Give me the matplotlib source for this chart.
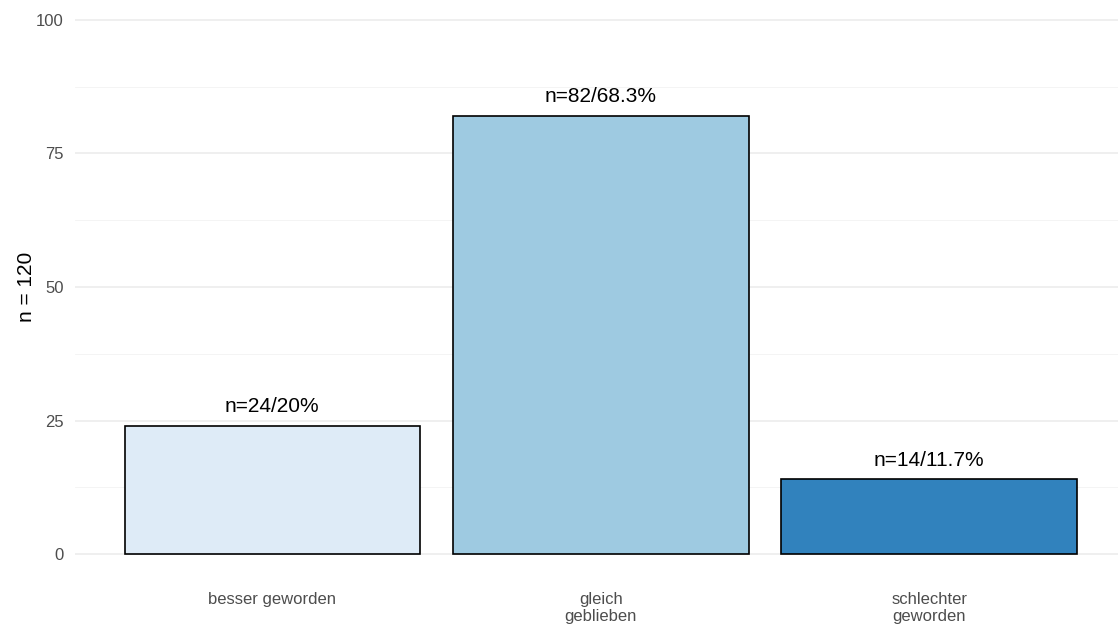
import matplotlib.pyplot as plt

plt.rcParams["font.family"] = ["Liberation Sans", "DejaVu Sans"]

categories = ["besser geworden", "gleich\ngeblieben", "schlechter\ngeworden"]
counts = [24, 82, 14]
labels = ["n=24/20%", "n=82/68.3%", "n=14/11.7%"]
colors = ["#DEEBF7", "#9ECAE1", "#3182BD"]

W, H = 1118, 626
fig = plt.figure(figsize=(W / 100, H / 100), dpi=100)
ax = fig.add_axes([75 / W, 1 - 560 / H, (W - 75) / W, (560 - 14) / H])

x = [1, 2, 3]
ax.bar(x, counts, width=0.9, color=colors, edgecolor="black", linewidth=1.2, zorder=3)
for xi, c, lab in zip(x, counts, labels):
    ax.text(xi, c + 1.8, lab, ha="center", va="bottom", fontsize=15, color="black")

ax.set_xlim(0.399, 3.575)
ax.set_ylim(-1.12, 101.12)
ax.set_yticks([0, 25, 50, 75, 100])
ax.set_yticks([12.5, 37.5, 62.5, 87.5], minor=True)
ax.set_xticks(x)
ax.set_xticklabels(categories, linespacing=1.15)
ax.grid(axis="y", which="major", color="#EBEBEB", linewidth=1.1, zorder=0)
ax.grid(axis="y", which="minor", color="#F3F3F3", linewidth=0.6, zorder=0)
ax.tick_params(axis="both", which="both", length=0, labelsize=12, colors="#4D4D4D")
ax.tick_params(axis="x", pad=23)
ax.tick_params(axis="y", pad=8)
for s in ax.spines.values():
    s.set_visible(False)
ax.set_ylabel("n = 120", fontsize=15, color="black", labelpad=0)

fig.savefig("out.png", dpi=100)
